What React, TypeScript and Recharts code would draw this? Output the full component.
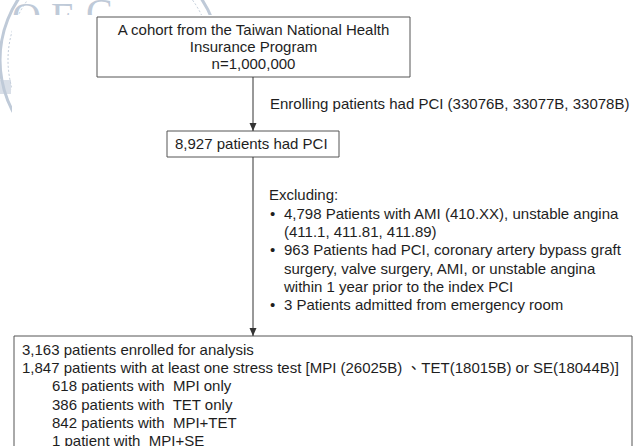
import {
  ComposedChart,
  XAxis,
  YAxis,
  ReferenceArea,
  ReferenceLine,
  ReferenceDot,
} from 'recharts';

// flowchart text, top to bottom
const cohortLines = [
  'A cohort from the Taiwan  National Health',
  'Insurance Program',
  'n=1,000,000',
];
const enrollNote = 'Enrolling patients had PCI (33076B, 33077B, 33078B)';
const pciLines = ['8,927 patients had PCI'];
const excludeTitle = 'Excluding:';
const exclusions = [
  ['4,798 Patients with AMI  (410.XX), unstable angina', '(411.1, 411.81, 411.89)'],
  [
    '963 Patients had PCI, coronary artery bypass graft',
    'surgery, valve  surgery, AMI, or unstable angina',
    'within  1 year prior to the index PCI',
  ],
  ['3 Patients admitted from emergency room'],
];
const analysisLines = [
  '3,163 patients enrolled for analysis',
  '1,847 patients with at least one stress test [MPI (26025B) \u3001TET(18015B) or SE(18044B)]',
];
const subgroupLines = [
  '618 patients with  MPI only',
  '386 patients with  TET only',
  '842 patients with  MPI+TET',
  '1 patient with  MPI+SE',
];

const W = 635;
const H = 446;
const FONT = '"Liberation Sans", Arial, "Noto Sans CJK TC", sans-serif';
const INK = '#1e1e1e';
const LINE_H = 18.2;
const SEAL = '#bfcad8';

const textStyle = { fontFamily: FONT, fontSize: 15, fill: INK } as const;

type VB = { x: number; y: number; width: number; height: number };

function centeredLines(lines: string[], top: number, step: number) {
  return ({ viewBox }: { viewBox: VB }) => (
    <text style={textStyle}>
      {lines.map((l, i) => (
        <tspan key={i} x={viewBox.x + viewBox.width / 2} y={viewBox.y + top + i * step} textAnchor="middle">
          {l}
        </tspan>
      ))}
    </text>
  );
}

function leftLines(lines: { text: string; indent: number }[], left: number, top: number) {
  return ({ viewBox }: { viewBox: VB }) => (
    <text style={textStyle}>
      {lines.map((l, i) => (
        <tspan key={i} x={viewBox.x + left + l.indent} y={viewBox.y + top + i * LINE_H} xmlSpace="preserve">
          {l.text}
        </tspan>
      ))}
    </text>
  );
}

function ExclusionBlock({ viewBox }: { viewBox: VB }) {
  const rows: { text: string; bullet: boolean }[] = [];
  exclusions.forEach((item) => item.forEach((t, j) => rows.push({ text: t, bullet: j === 0 })));
  return (
    <g style={textStyle}>
      <text x={viewBox.x} y={viewBox.y + 10}>{excludeTitle}</text>
      {rows.map((r, i) => (
        <g key={i}>
          {r.bullet && <text x={viewBox.x + 1} y={viewBox.y + 29 + i * LINE_H}>{'\u2022'}</text>}
          <text x={viewBox.x + 15} y={viewBox.y + 29 + i * LINE_H}>{r.text}</text>
        </g>
      ))}
    </g>
  );
}

function ArrowHead({ cx, cy }: { cx?: number; cy?: number }) {
  if (cx == null || cy == null) return null;
  return <path d={`M${cx - 3.5},${cy - 8} L${cx + 3.5},${cy - 8} L${cx},${cy} Z`} fill="#333" />;
}

// faint seal behind the pasted flowchart, only its top and left edges show
function Seal() {
  return (
    <g fill="none" stroke={SEAL} strokeWidth={2}>
      <circle cx={110} cy={60} r={110} strokeWidth={3} />
      <circle cx={110} cy={60} r={102} strokeWidth={1} strokeDasharray="2 2" />
      <text x={12} y={30} fill={SEAL} stroke="none" fontFamily="Liberation Serif" fontSize={40}>
        O F
      </text>
      <text x={86} y={26} fill={SEAL} stroke="none" fontFamily="Liberation Serif" fontSize={40}>
        C.
      </text>
      <rect x={0} y={80} width={11} height={14} stroke="none" fill={SEAL} opacity={0.6} />
      <rect x={12} y={15} width={W} height={H} fill="#fff" stroke="none" />
    </g>
  );
}

export default function App() {
  const boxLine = { stroke: '#555', strokeWidth: 1, fill: '#fff', fillOpacity: 1 };
  return (
    <div style={{ position: 'absolute', left: 0, top: 0, width: W, height: H, background: '#fff' }}>
      <svg width={W} height={H} style={{ position: 'absolute', left: 0, top: 0 }}>
        <Seal />
      </svg>
      <div style={{ position: 'absolute', left: 0, top: 0 }}>
        <ComposedChart width={W} height={H} margin={{ top: 0, right: 0, bottom: 0, left: 0 }}>
          <XAxis type="number" dataKey="x" domain={[0, W]} hide allowDataOverflow />
          <YAxis type="number" dataKey="y" domain={[0, H]} reversed hide allowDataOverflow />

          <ReferenceLine segment={[{ x: 253, y: 77 }, { x: 253, y: 131 }]} stroke="#333" strokeWidth={1} ifOverflow="visible" />
          <ReferenceLine segment={[{ x: 253, y: 157 }, { x: 253, y: 336 }]} stroke="#333" strokeWidth={1} ifOverflow="visible" />
          <ReferenceDot x={253} y={131} shape={ArrowHead} ifOverflow="visible" />
          <ReferenceDot x={253} y={336} shape={ArrowHead} ifOverflow="visible" />

          <ReferenceArea x1={97} x2={410} y1={17} y2={77} {...boxLine} ifOverflow="visible"
            label={centeredLines(cohortLines, 18, 17)} />
          <ReferenceArea x1={167} x2={339} y1={131} y2={157} {...boxLine} ifOverflow="visible"
            label={leftLines(pciLines.map((t) => ({ text: t, indent: 0 })), 8, 18)} />
          <ReferenceArea x1={14} x2={632} y1={336} y2={470} {...boxLine} ifOverflow="visible"
            label={leftLines(
              [
                ...analysisLines.map((t) => ({ text: t, indent: 0 })),
                ...subgroupLines.map((t) => ({ text: t, indent: 30 })),
              ],
              8,
              19,
            )} />

          <ReferenceArea x1={270} x2={620} y1={97} y2={112} fill="none" stroke="none" ifOverflow="visible"
            label={leftLines([{ text: enrollNote, indent: 0 }], 0, 12)} />
          <ReferenceArea x1={269} x2={620} y1={190} y2={315} fill="none" stroke="none" ifOverflow="visible"
            label={ExclusionBlock} />
        </ComposedChart>
      </div>
    </div>
  );
}
